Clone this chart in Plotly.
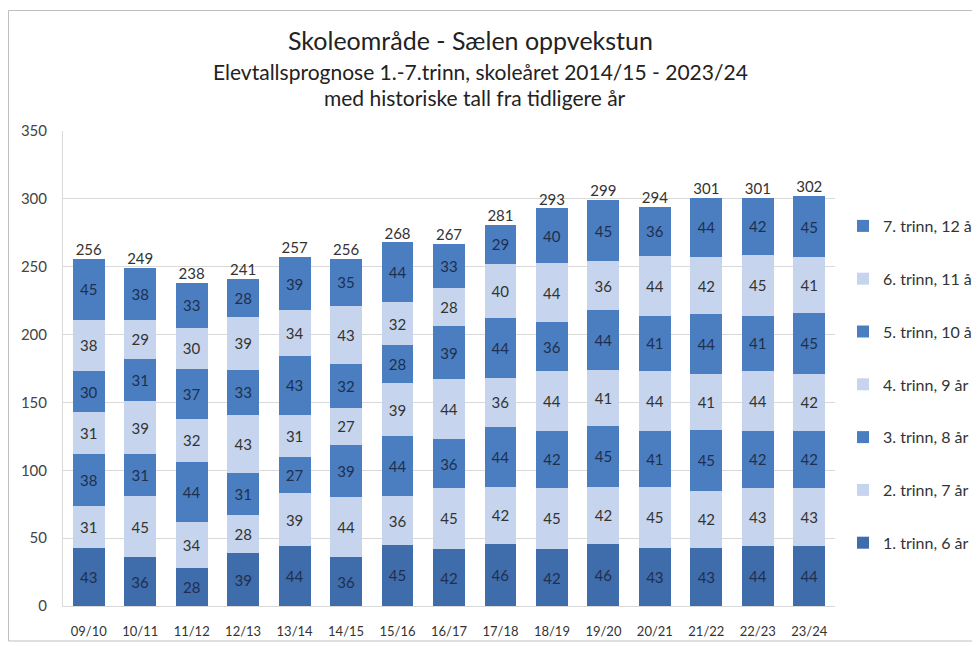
import plotly.graph_objects as go

years = ["09/10", "10/11", "11/12", "12/13", "13/14", "14/15", "15/16", "16/17",
         "17/18", "18/19", "19/20", "20/21", "21/22", "22/23", "23/24"]

trinn1 = [43, 36, 28, 39, 44, 36, 45, 42, 46, 42, 46, 43, 43, 44, 44]
trinn2 = [31, 45, 34, 28, 39, 44, 36, 45, 42, 45, 42, 45, 42, 43, 43]
trinn3 = [38, 31, 44, 31, 27, 39, 44, 36, 44, 42, 45, 41, 45, 42, 42]
trinn4 = [31, 39, 32, 43, 31, 27, 39, 44, 36, 44, 41, 44, 41, 44, 42]
trinn5 = [30, 31, 37, 33, 43, 32, 28, 39, 44, 36, 44, 41, 44, 41, 45]
trinn6 = [38, 29, 30, 39, 34, 43, 32, 28, 40, 44, 36, 44, 42, 45, 41]
trinn7 = [45, 38, 33, 28, 39, 35, 44, 33, 29, 40, 45, 36, 44, 42, 45]

series_names = ["1. trinn, 6 år", "2. trinn, 7 år", "3. trinn, 8 år", "4. trinn, 9 år",
                "5. trinn, 10 år", "6. trinn, 11 år", "7. trinn, 12 år"]
series_values = [trinn1, trinn2, trinn3, trinn4, trinn5, trinn6, trinn7]
totals = [sum(v) for v in zip(*series_values)]

DARK1 = "#3F6CAA"
DARK = "#4A7EC0"
LIGHT = "#C6D5ED"
colors = [DARK1, LIGHT, DARK, LIGHT, DARK, LIGHT, DARK]
text_colors = ["#1F2F4F", "#333333", "#1F2F4F", "#333333", "#1F2F4F", "#333333", "#1F2F4F"]

FONT = "Lato, 'Open Sans', sans-serif"

# page has an ~8px body margin; design coordinates are reference pixels minus OFF
OFF = 8
W, H = 980, 646
PL, PR, PT, PB = 63, 835, 131, 606  # plot area in reference pixels
L, T = PL - OFF, PT - OFF
R, B = W - (PR - OFF), H - (PB - OFF)
pw, ph = W - L - R, H - T - B


def px(x):
    return (x - OFF - L) / pw


def py(y):
    return (H - B - (y - OFF)) / ph


fig = go.Figure()
n = len(series_names)
for i, (name, vals) in enumerate(zip(series_names, series_values)):
    fig.add_trace(go.Bar(
        x=years, y=vals, name=name,
        marker=dict(color=colors[i], line=dict(width=0)),
        text=[str(v) for v in vals], textposition="inside",
        insidetextanchor="middle", constraintext="none",
        textfont=dict(size=15, color=text_colors[i], family=FONT),
        legendgroup=f"g{i}", legendrank=n - i,
    ))

fig.add_trace(go.Scatter(
    x=years, y=totals, mode="text",
    text=[str(t) for t in totals], textposition="top center",
    textfont=dict(size=15, color="#333333", family=FONT),
    showlegend=False, hoverinfo="skip", cliponaxis=False,
))

annotations = [
    dict(text="Skoleområde - Sælen oppvekstun", x=px(470), y=py(40),
         font=dict(size=25, color="#222222", family=FONT)),
    dict(text="Elevtallsprognose 1.-7.trinn, skoleåret 2014/15 - 2023/24", x=px(480), y=py(71),
         font=dict(size=21, color="#222222", family=FONT)),
    dict(text="med historiske tall fra tidligere år", x=px(475), y=py(98),
         font=dict(size=21, color="#222222", family=FONT)),
]
for a in annotations:
    a.update(xref="paper", yref="paper", showarrow=False, xanchor="center", yanchor="middle")

fig.update_layout(
    width=W, height=H,
    barmode="stack", bargap=0.38,
    margin=dict(l=L, r=R, t=T, b=B, autoexpand=False),
    paper_bgcolor="white", plot_bgcolor="white",
    font=dict(family=FONT, size=13, color="#333333"),
    annotations=annotations,
    showlegend=True,
    legend=dict(x=px(843), y=py(209), xanchor="left", yanchor="top",
                traceorder="grouped", tracegroupgap=29,
                font=dict(size=16, color="#333333", family=FONT),
                itemwidth=30, bgcolor="rgba(0,0,0,0)"),
    shapes=[dict(type="rect", xref="paper", yref="paper",
                 x0=px(8.5), x1=px(995), y0=py(641), y1=py(10.5),
                 line=dict(color="#BFBFBF", width=1), layer="below")],
)
fig.update_yaxes(range=[0, 350], dtick=50, showgrid=True, gridcolor="#D9D9D9", gridwidth=1,
                 zeroline=False, showline=True, linecolor="#D9D9D9", ticks="",
                 tickfont=dict(size=15, color="#444444", family=FONT), ticklabelstandoff=12)
fig.update_xaxes(range=[-0.5, len(years) - 0.5], showline=True, linecolor="#D9D9D9", ticks="",
                 tickfont=dict(size=13, color="#333333", family=FONT), ticklabelstandoff=13)

fig.write_html("out.html")
